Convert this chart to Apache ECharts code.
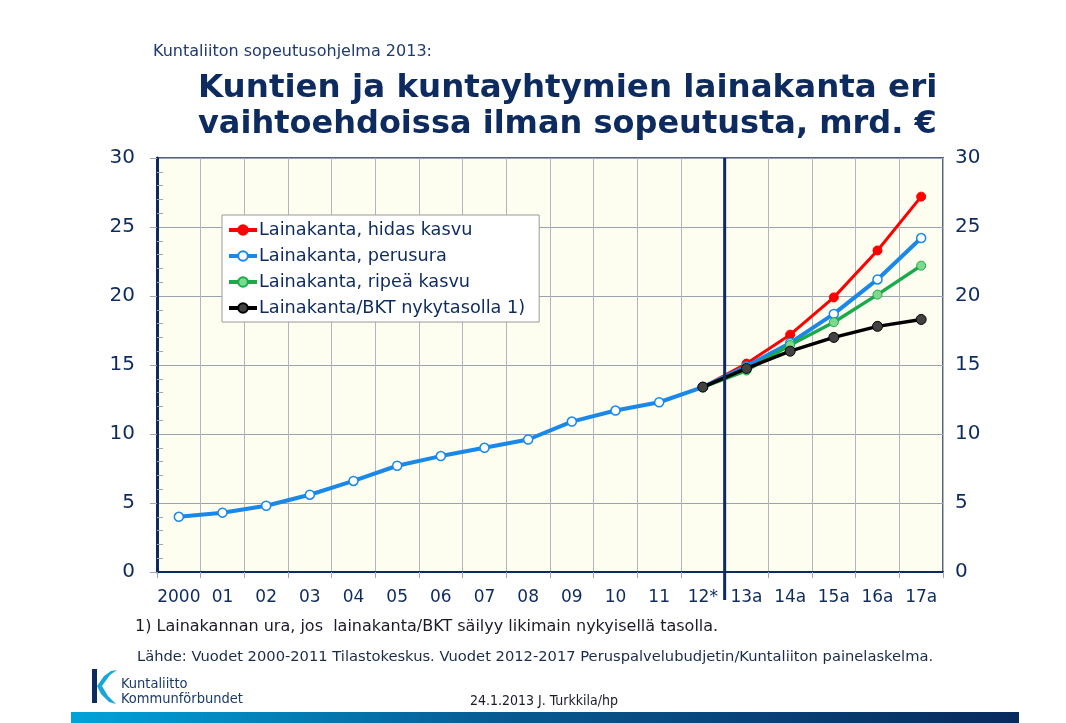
<!DOCTYPE html>
<html><head><meta charset="utf-8">
<script src="https://cdn.jsdelivr.net/npm/echarts@6/dist/echarts.min.js"></script>
<style>html,body{margin:0;padding:0;background:#fff}#c{width:1066px;height:723px}</style>
</head><body><div id="c"></div>
<script>
// ---- data ----
const categories = ['2000','01','02','03','04','05','06','07','08','09','10','11','12*','13a','14a','15a','16a','17a'];
const seriesNames = ['Lainakanta, hidas kasvu','Lainakanta, perusura','Lainakanta, ripeä kasvu','Lainakanta/BKT nykytasolla 1)'];
const hidasKasvu  = [null,null,null,null,null,null,null,null,null,null,null,null,13.4,15.1,17.2,19.9,23.3,27.2];
const perusura    = [4.0,4.3,4.8,5.6,6.6,7.7,8.4,9.0,9.6,10.9,11.7,12.3,13.4,14.9,16.6,18.7,21.2,24.2];
const ripeaKasvu  = [null,null,null,null,null,null,null,null,null,null,null,null,13.4,14.6,16.45,18.1,20.1,22.2];
const bktNykytaso = [null,null,null,null,null,null,null,null,null,null,null,null,13.4,14.75,16.0,17.0,17.8,18.3];
const yMin = 0, yMax = 30, yStep = 5;
const dividerAfter = '12*', dividerBefore = '13a';

const navy = '#0d2b5e';
const gridCol = '#9aa1af';
const G = {left:157, right:123, top:158, bottom:151};
const W = 1066;
const chart = echarts.init(document.getElementById('c'), null, {renderer:'canvas'});

function yAxisBase(extra){
  return Object.assign({type:'value', min:yMin, max:yMax, interval:yStep}, extra);
}

const option = {
  backgroundColor:'#ffffff',
  animation:false,
  grid:{left:G.left, right:G.right, top:G.top, bottom:G.bottom, show:true, backgroundColor:'#fdfdf0', borderColor:'#56627c', borderWidth:2},
  legend:{
    orient:'vertical', left:222, top:215,
    data:seriesNames,
    backgroundColor:'#ffffff', borderColor:'#9a9a9a', borderWidth:1,
    padding:[6,14,5,5], itemGap:8, itemWidth:28, itemHeight:12,
    lineStyle:{width:4},
    textStyle:{fontFamily:'DejaVu Sans', fontSize:17.7, color:navy, padding:[0,0,0,-3]}
  },
  xAxis:{
    type:'category', data:categories, boundaryGap:true,
    axisLine:{lineStyle:{color:navy, width:2}},
    axisTick:{show:true, length:6, lineStyle:{color:'#a0a4ac'}},
    splitLine:{show:true, lineStyle:{color:'#b2b6be', width:1}},
    axisLabel:{interval:0, fontFamily:'DejaVu Sans', fontSize:17, color:navy, margin:17}
  },
  yAxis:[
    yAxisBase({position:'left',
      axisLine:{show:true, lineStyle:{color:navy, width:3}},
      axisTick:{show:true, length:7, lineStyle:{color:'#a0a4ac'}},
      splitLine:{show:true, lineStyle:{color:gridCol, width:1}},
      axisLabel:{fontFamily:'DejaVu Sans', fontSize:20, color:navy, margin:22}}),
    yAxisBase({position:'right',
      axisLine:{show:false}, axisTick:{show:false}, splitLine:{show:false},
      axisLabel:{fontFamily:'DejaVu Sans', fontSize:20, color:navy, margin:12}}),
    // minor ticks pointing into the plot from the left axis
    yAxisBase({position:'right', offset:-(W - G.left - G.right),
      axisLine:{show:false}, axisTick:{show:false}, splitLine:{show:false},
      axisLabel:{show:false},
      minorTick:{show:true, splitNumber:5, length:6, lineStyle:{color:'#a0a4ac'}}})
  ],
  series:[
    {name:seriesNames[0], type:'line', data:hidasKasvu, symbol:'circle', symbolSize:9, z:3,
      lineStyle:{color:'#ff0000', width:3}, itemStyle:{color:'#ff0000', borderColor:'#ff0000', borderWidth:1}},
    {name:seriesNames[1], type:'line', data:perusura, symbol:'circle', symbolSize:9, z:4,
      lineStyle:{color:'#1a88e8', width:4}, itemStyle:{color:'#ffffff', borderColor:'#1a88e8', borderWidth:1.5}},
    {name:seriesNames[2], type:'line', data:ripeaKasvu, symbol:'circle', symbolSize:9, z:5,
      lineStyle:{color:'#1aaa4c', width:3.5}, itemStyle:{color:'#80d88c', borderColor:'#1aaa4c', borderWidth:1}},
    {name:seriesNames[3], type:'line', data:bktNykytaso, symbol:'circle', symbolSize:10, z:6,
      lineStyle:{color:'#000000', width:3.5}, itemStyle:{color:'#424242', borderColor:'#000000', borderWidth:1}}
  ]
};
chart.setOption(option);

// divider between actual and forecast years, positioned through the axis scales
const xa = chart.convertToPixel({xAxisIndex:0}, dividerAfter);
const xb = chart.convertToPixel({xAxisIndex:0}, dividerBefore);
const yTop = chart.convertToPixel({yAxisIndex:0}, yMax);
const yBot = chart.convertToPixel({yAxisIndex:0}, yMin);
const xd = (xa + xb) / 2;

const txt = (x, y, text, font, fill, extra) => Object.assign({type:'text', left:x, top:y, z:50,
  style:{text:text, font:font, fill:fill}}, extra||{});

chart.setOption({graphic:[
  {type:'line', z:40, shape:{x1:xd, y1:yTop, x2:xd, y2:yBot+28}, style:{stroke:navy, lineWidth:3}},
  txt(153, 44, 'Kuntaliiton sopeutusohjelma 2013:', '16px "DejaVu Sans"', '#1f3a6e'),
  txt(198, 72, 'Kuntien ja kuntayhtymien lainakanta eri', 'bold 32.5px "DejaVu Sans"', navy),
  txt(198, 109, 'vaihtoehdoissa ilman sopeutusta, mrd. €', 'bold 32px "DejaVu Sans"', navy),
  txt(135, 619, '1) Lainakannan ura, jos  lainakanta/BKT säilyy likimain nykyisellä tasolla.', '16px "DejaVu Sans"', '#1a1a2a'),
  txt(137, 650, 'Lähde: Vuodet 2000-2011 Tilastokeskus. Vuodet 2012-2017 Peruspalvelubudjetin/Kuntaliiton painelaskelma.', '14.7px "DejaVu Sans"', '#1a2a4a'),
  txt(470, 694, '24.1.2013 J. Turkkila/hp', '14px "DejaVu Sans Condensed"', '#1a1a2a'),
  // logo
  {type:'rect', z:50, shape:{x:92, y:669, width:5, height:34}, style:{fill:navy}},
  {type:'polygon', z:50, shape:{points:[[97,686],[104,676],[111,671],[117,670],[110,675],[102,686],[108,696],[116,704],[109,702],[101,694]]}, style:{fill:'#1aa6d8'}},
  txt(121, 677, 'Kuntaliitto', '14.5px "DejaVu Sans Condensed"', '#1a3a6a'),
  txt(121, 692, 'Kommunförbundet', '14.5px "DejaVu Sans Condensed"', '#1a3a6a'),
  // bottom band
  {type:'rect', z:50, shape:{x:71, y:712, width:948, height:11},
    style:{fill:new echarts.graphic.LinearGradient(0,0,1,0,[{offset:0,color:'#00a3d9'},{offset:0.45,color:'#075a92'},{offset:1,color:'#082a5c'}])}}
]});
</script></body></html>
